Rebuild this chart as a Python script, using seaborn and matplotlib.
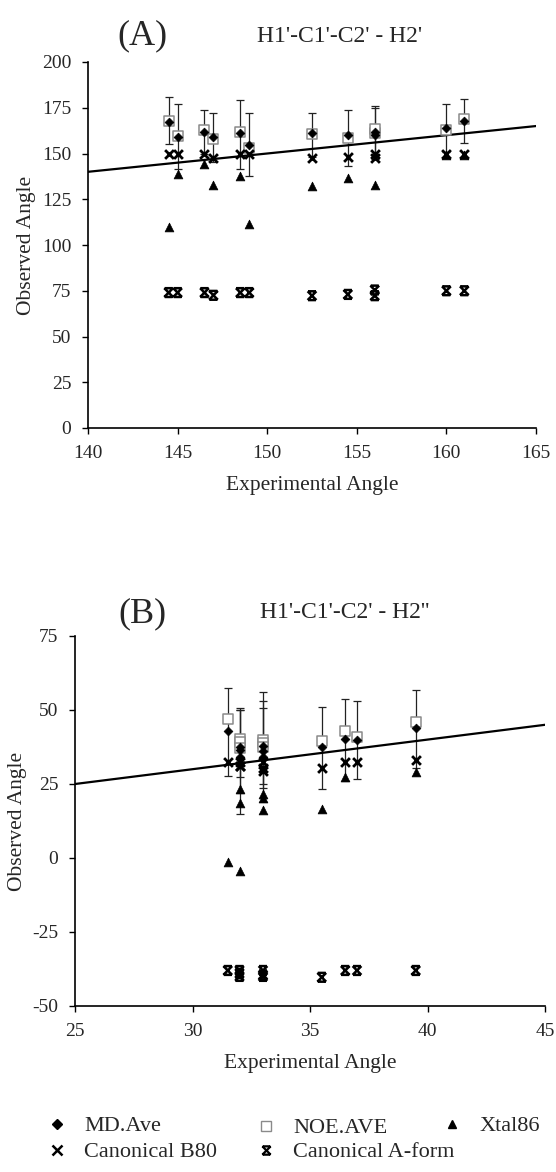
import numpy as np
import pandas as pd
import matplotlib
matplotlib.use("Agg")
import matplotlib.pyplot as plt
import seaborn as sns
from matplotlib.path import Path
from matplotlib.lines import Line2D

# ---------------- Panel A : H1'-C1'-C2' - H2' ----------------
a_x      = [144.5, 145.0, 146.5, 147.0, 148.5, 149.0, 152.5, 154.5, 156.0, 156.0, 160.0, 161.0]
a_md     = [167.0, 159.0, 162.0, 159.0, 161.0, 154.5, 161.0, 160.0, 160.0, 162.0, 164.0, 168.0]
a_noe    = [168.0, 159.5, 163.0, 158.0, 162.0, 153.0, 160.5, 158.5, 161.0, 163.5, 163.0, 169.0]
a_hi     = [181.0, 177.0, 174.0, 172.0, 179.0, 172.0, 172.0, 174.0, 175.0, 176.0, 177.0, 180.0]
a_lo     = [155.0, 141.8, 150.0, 145.5, 141.8, 137.5, 148.0, 143.0, 147.0, 149.0, 151.0, 155.6]
a_xtal   = [110.0, 139.0, 144.0, 133.0, 137.5, 111.5, 132.0, 136.4, 132.6, np.nan, 149.0, 149.0]
a_b80    = [150.0, 150.0, 150.0, 147.5, 150.0, 150.0, 147.5, 148.0, 147.5, 150.0, 150.0, 150.0]
a_aform  = [74.0, 74.0, 74.0, 72.5, 74.0, 74.0, 72.3, 73.0, 72.3, 75.4, 75.0, 75.0]
a_line   = [140, 165]

# ---------------- Panel B : H1'-C1'-C2' - H2'' ----------------
b_x      = [31.5, 32.0, 32.0, 32.0, 33.0, 33.0, 33.0, 35.5, 36.5, 37.0, 39.5]
b_md     = [43.0, 37.6, 36.5, 34.0, 38.0, 36.0, 34.0, 37.6, 40.2, 39.9, 43.8]
b_noe    = [47.0, 40.2, 39.2, 37.0, 40.0, 39.0, 37.5, 39.5, 43.0, 41.0, 46.0]
b_hi     = [57.5, 50.8, 50.0, 50.0, 56.2, 53.0, 50.8, 51.1, 53.7, 53.0, 56.8]
b_lo     = [27.7, 27.5, 14.8, 22.0, 23.5, 18.9, 25.0, 23.2, 25.9, 26.6, 30.5]
b_xtal   = [-1.5, 23.3, 18.5, -4.5, 21.6, 20.3, 16.2, 16.6, 27.5, np.nan, 29.2]
b_b80    = [32.3, 32.5, 31.0, 31.0, 32.5, 30.3, 29.5, 30.3, 32.5, 32.5, 33.1]
b_aform  = [-38.0, -38.0, -40.0, -39.0, -38.0, -40.0, -39.5, -40.3, -38.0, -38.0, -38.0]
b_line   = [25, 45]

legend_labels = ["MD.Ave", "NOE.AVE", "Xtal86", "Canonical B80", "Canonical A-form"]

sns.set_theme(style="white")
plt.rcParams["font.family"] = ["Liberation Serif", "DejaVu Serif"]
plt.rcParams["axes.linewidth"] = 1.2
plt.rcParams["axes.unicode_minus"] = False

aform_marker = Path(
    [(-1, -1), (1, 1), (-1, 1), (1, -1), (-0.9, 1), (0.9, 1), (-0.9, -1), (0.9, -1)],
    [Path.MOVETO, Path.LINETO] * 4,
)

W, H = 556, 1172
fig = plt.figure(figsize=(W / 100, H / 100), dpi=100)


def box(l, r, t, b):
    return [l / W, 1 - b / H, (r - l) / W, (b - t) / H]


axA = fig.add_axes(box(88, 536, 62, 428))
axB = fig.add_axes(box(75, 545, 636, 1006))


def draw(ax, x, md, noe, hi, lo, xtal, b80, aform, line):
    x = np.asarray(x, float)
    md = np.asarray(md, float)
    yerr = [md - np.asarray(lo, float), np.asarray(hi, float) - md]
    ax.errorbar(x, md, yerr=yerr, fmt="none", ecolor="#222222", elinewidth=0.9,
                capsize=3, capthick=0.9, zorder=2)
    sns.lineplot(x=line, y=line, ax=ax, color="black", linewidth=1.6, zorder=3)
    sns.scatterplot(x=x, y=noe, ax=ax, marker="s", s=42, facecolor="white",
                    edgecolor="#8a8a8a", linewidth=1.1, zorder=4)
    sns.scatterplot(x=x, y=md, ax=ax, marker="D", s=20, color="black",
                    edgecolor="black", linewidth=0.5, zorder=5)
    sns.scatterplot(x=x, y=xtal, ax=ax, marker="^", s=40, color="black",
                    edgecolor="black", linewidth=0.5, zorder=5)
    sns.scatterplot(x=x, y=b80, ax=ax, marker="x", s=40, color="black",
                    linewidth=2.0, zorder=6)
    sns.scatterplot(x=x, y=aform, ax=ax, marker=aform_marker, s=40,
                    facecolor="none", edgecolor="black", linewidth=1.8, zorder=6)
    for side in ["top", "right"]:
        ax.spines[side].set_visible(False)
    ax.spines["left"].set_color("black")
    ax.spines["bottom"].set_color("black")
    ax.tick_params(axis="both", which="both", direction="out", length=4,
                   width=1, color="black", labelsize=14, pad=8,
                   bottom=True, left=True)
    ax.set_xlabel("Experimental Angle", fontsize=15.5, labelpad=10)
    ax.set_ylabel("Observed Angle", fontsize=15.5, labelpad=4)


draw(axA, a_x, a_md, a_noe, a_hi, a_lo, a_xtal, a_b80, a_aform, a_line)
axA.set_xlim(140, 165)
axA.set_ylim(0, 200)
axA.set_xticks([140, 145, 150, 155, 160, 165])
axA.set_yticks([0, 25, 50, 75, 100, 125, 150, 175, 200])

draw(axB, b_x, b_md, b_noe, b_hi, b_lo, b_xtal, b_b80, b_aform, b_line)
axB.set_xlim(25, 45)
axB.set_ylim(-50, 75)
axB.set_xticks([25, 30, 35, 40, 45])
axB.set_yticks([-50, -25, 0, 25, 50, 75])

fig.text(142 / W, 1 - 36 / H, "(A)", fontsize=26, ha="center", va="center")
fig.text(340 / W, 1 - 37 / H, "H1'-C1'-C2' - H2'", fontsize=17, ha="center", va="center")
fig.text(142 / W, 1 - 614 / H, "(B)", fontsize=26, ha="center", va="center")
fig.text(345 / W, 1 - 613 / H, "H1'-C1'-C2' - H2''", fontsize=17, ha="center", va="center")

# legend (one entry per slot so the loose hand-made layout is kept)
handles = {
    "MD.Ave": Line2D([], [], linestyle="none", marker="D", markersize=5, color="black"),
    "NOE.AVE": Line2D([], [], linestyle="none", marker="s", markersize=7, markerfacecolor="white",
                      markeredgecolor="#8a8a8a", markeredgewidth=1.0),
    "Xtal86": Line2D([], [], linestyle="none", marker="^", markersize=6, color="black"),
    "Canonical B80": Line2D([], [], linestyle="none", marker="x", markersize=6.5, color="black",
                            markeredgewidth=1.8),
    "Canonical A-form": Line2D([], [], linestyle="none", marker=aform_marker, markersize=6,
                               color="black", markerfacecolor="none", markeredgewidth=1.6),
}
slots = {
    "MD.Ave": (46, 1126),
    "NOE.AVE": (255, 1128),
    "Xtal86": (441, 1126),
    "Canonical B80": (46, 1152),
    "Canonical A-form": (255, 1152),
}
for lab in legend_labels:
    xx, yy = slots[lab]
    fig.legend([handles[lab]], [lab], loc="center left",
               bbox_to_anchor=(xx / W, 1 - yy / H), borderaxespad=0, borderpad=0,
               frameon=False, fontsize=16, handlelength=1.0, handletextpad=0.72)

fig.savefig("out.png", dpi=100)
